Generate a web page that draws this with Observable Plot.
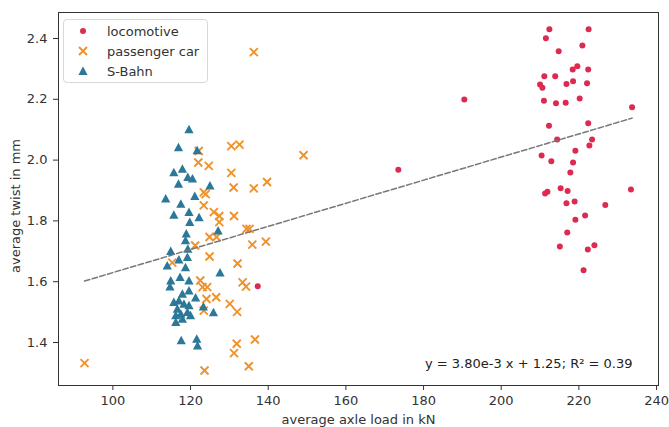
<!DOCTYPE html>
<html><head><meta charset="utf-8">
<script src="https://cdn.jsdelivr.net/npm/d3@7"></script>
<script src="https://cdn.jsdelivr.net/npm/@observablehq/plot@0.6"></script>
<style>
body{margin:0;background:#fff;font-family:"DejaVu Sans",sans-serif;}
#wrap{position:relative;width:669px;height:427px;}
#legend{position:absolute;left:63px;top:19px;width:145px;height:64px;border:1px solid #d8d8d8;border-radius:4px;background:rgba(255,255,255,0.85);box-sizing:border-box;}
</style></head>
<body><div id="wrap"></div>
<script>
const seriesNames = ["locomotive", "passenger car", "S-Bahn"];
const seriesColors = ["#dc2a50", "#f0922b", "#2b7898"];

const locoX = [212.4,222.5,211.5,220.9,214.8,218.4,219.6,222.4,211.1,213.9,210.0,210.6,216.8,218.5,222.1,211.0,214.1,216.6,220.2,233.7,212.3,222.4,214.4,223.4,222.7,219.1,210.4,212.9,218.5,217.8,233.4,211.3,211.9,215.3,217.1,216.8,218.9,226.8,219.1,221.6,217.0,215.1,222.3,224.0,221.2,190.5,173.5,137.3];
const locoY = [2.430,2.430,2.401,2.377,2.358,2.298,2.309,2.298,2.276,2.276,2.249,2.238,2.250,2.259,2.253,2.195,2.187,2.189,2.203,2.174,2.113,2.121,2.068,2.068,2.048,2.031,2.015,1.996,1.992,1.959,1.903,1.890,1.896,1.907,1.898,1.858,1.864,1.852,1.804,1.818,1.762,1.716,1.706,1.720,1.638,2.199,1.968,1.585];

const passX = [92.7,115.3,121.2,122.1,122.0,124.7,130.5,132.6,136.3,149.1,130.5,131.1,136.3,139.7,123.4,123.9,123.4,126.0,127.4,131.2,127.4,134.4,135.2,124.9,126.7,135.9,139.4,124.9,132.1,122.5,123.1,124.3,133.4,134.3,124.1,126.6,130.1,132.0,123.4,131.9,136.6,131.2,135.0,123.6];
const passY = [1.332,1.663,1.719,2.030,1.992,1.981,2.046,2.051,2.355,2.016,1.958,1.910,1.907,1.928,1.894,1.888,1.851,1.829,1.816,1.816,1.796,1.774,1.774,1.747,1.747,1.722,1.732,1.683,1.660,1.604,1.582,1.582,1.598,1.584,1.543,1.549,1.527,1.501,1.505,1.396,1.410,1.365,1.322,1.308];

const sbahnX = [119.6,116.9,121.7,115.7,117.9,119.3,120.5,116.9,125.0,113.6,117.5,121.1,115.7,119.6,122.2,119.8,127.1,118.9,118.7,119.3,114.9,114.0,117.0,119.2,118.7,127.6,114.9,114.7,117.3,119.6,119.6,117.9,121.3,115.7,123.3,125.9,117.0,118.3,119.6,116.6,117.5,119.2,116.2,120.0,116.2,117.9,117.6,121.6,121.8];
const sbahnY = [2.101,2.042,2.032,1.960,1.971,1.944,1.939,1.922,1.916,1.873,1.856,1.882,1.820,1.829,1.812,1.796,1.768,1.758,1.736,1.708,1.701,1.653,1.673,1.681,1.647,1.630,1.604,1.584,1.615,1.604,1.571,1.560,1.548,1.533,1.518,1.499,1.538,1.527,1.522,1.511,1.494,1.500,1.489,1.489,1.467,1.478,1.407,1.412,1.390];

const xTicks = [100,120,140,160,180,200,220,240];
const yTicks = [1.4,1.6,1.8,2.0,2.2,2.4];
const xDomain = [86.0, 240.5];
const yDomain = [1.2586, 2.4855];
const fitSlope = 3.80e-3, fitIntercept = 1.25, fitR2 = 0.39;
const xLabel = "average axle load in kN";
const yLabel = "average twist in mm";

const toRows = (xs, ys) => xs.map((x, i) => ({x, y: ys[i]}));
const loco = toRows(locoX, locoY);
const pass = toRows(passX, passY);
const sbahn = toRows(sbahnX, sbahnY);

const allX = [...locoX, ...passX, ...sbahnX];
const fx0 = d3.min(allX), fx1 = d3.max(allX);
const fitLine = [fx0, fx1].map(x => ({x, y: fitSlope * x + fitIntercept}));
const eqText = `y = ${(fitSlope*1000).toFixed(2)}e-3 x + ${fitIntercept.toFixed(2)}; R² = ${fitR2.toFixed(2)}`;

const crossSym = {draw(ctx, size){const r = Math.sqrt(size/Math.PI); ctx.moveTo(-r,-r); ctx.lineTo(r,r); ctx.moveTo(-r,r); ctx.lineTo(r,-r);}};
const triSym = {draw(ctx, size){const r = Math.sqrt(size/Math.PI); ctx.moveTo(0,-r); ctx.lineTo(r,r*0.85); ctx.lineTo(-r,r*0.85); ctx.closePath();}};

const chart = Plot.plot({
  width: 669, height: 427,
  marginLeft: 58, marginRight: 11, marginTop: 12, marginBottom: 42,
  style: {fontFamily: "DejaVu Sans", fontSize: "13px", color: "#333", background: "white"},
  x: {domain: xDomain},
  y: {domain: yDomain},
  marks: [
    Plot.axisX({ticks: xTicks, tickSize: 5, tickPadding: 5, label: null, tickFormat: d => d}),
    Plot.axisY({ticks: yTicks, tickSize: 5, tickPadding: 6, label: null, tickFormat: d3.format(".1f")}),
    Plot.dot(loco, {x: "x", y: "y", r: 3, fill: seriesColors[0], stroke: "none"}),
    Plot.dot(pass, {x: "x", y: "y", r: 4, symbol: crossSym, fill: "none", stroke: seriesColors[1], strokeWidth: 1.9}),
    Plot.dot(sbahn, {x: "x", y: "y", r: 4.6, symbol: triSym, fill: seriesColors[2], stroke: "none"}),
    Plot.line(fitLine, {x: "x", y: "y", stroke: "#777", strokeWidth: 1.5, strokeDasharray: "5.5,2.5"}),
    Plot.text([eqText], {frameAnchor: "bottom-right", textAnchor: "end", lineAnchor: "middle", dx: -26, dy: -22, fill: "#222", fontSize: 13}),
    Plot.text([xLabel], {frameAnchor: "bottom", lineAnchor: "middle", dy: 34, fill: "#333", fontSize: 13}),
    Plot.text([yLabel], {frameAnchor: "left", textAnchor: "middle", rotate: -90, lineAnchor: "middle", dx: -43, dy: 7, fill: "#333", fontSize: 13}),
    Plot.frame({stroke: "#333", strokeWidth: 1})
  ]
});
const wrap = document.getElementById("wrap");
wrap.appendChild(chart);

// legend
const leg = d3.select(wrap).append("div").attr("id", "legend");
const lsvg = leg.append("svg").attr("width", 143).attr("height", 62).style("display", "block");
const syms = [d3.symbol(d3.symbolCircle, Math.PI*9), d3.symbol(crossSym, Math.PI*16), d3.symbol(triSym, Math.PI*4.6*4.6)];
seriesNames.forEach((name, i) => {
  const cy = 11 + i * 20;
  const g = lsvg.append("g").attr("transform", `translate(19,${cy})`);
  const p = g.append("path").attr("d", syms[i]());
  if (i === 1) p.attr("fill", "none").attr("stroke", seriesColors[i]).attr("stroke-width", 1.9);
  else p.attr("fill", seriesColors[i]);
  lsvg.append("text").attr("x", 43).attr("y", cy).attr("dy", "0.35em")
    .attr("font-family", "DejaVu Sans").attr("font-size", 13).attr("fill", "#333").text(name);
});
</script>
</body></html>
